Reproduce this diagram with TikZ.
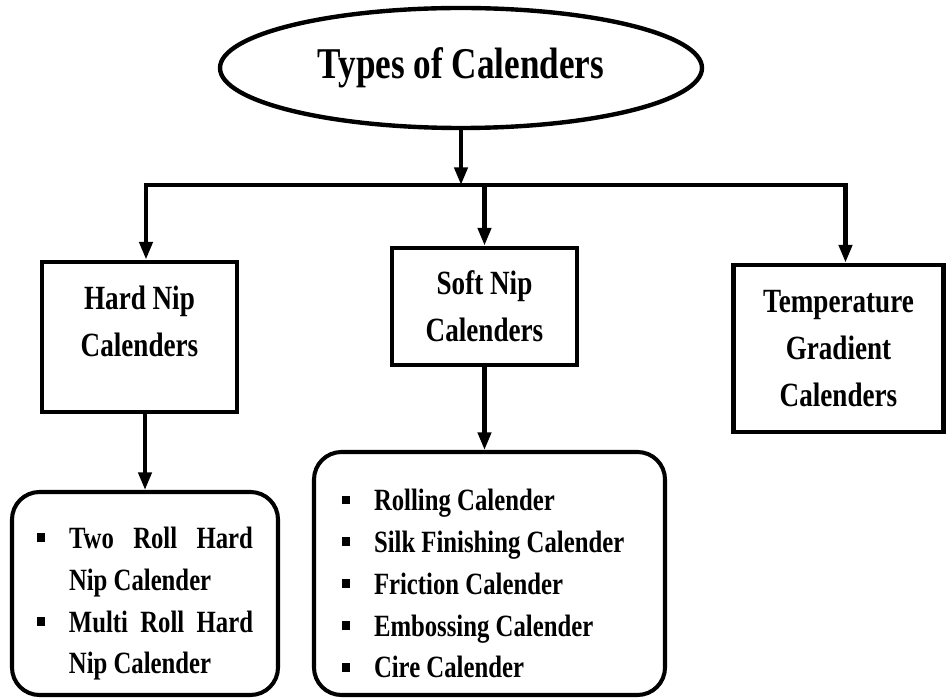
\documentclass[tikz,border=0pt]{standalone}
\usepackage{fontspec}
\usepackage{enumitem}
\usetikzlibrary{shapes.geometric,arrows.meta}
\newfontfamily\calfont{Liberation Serif}[FakeStretch=0.8]
\newcommand{\sqbullet}{\rule[3.6pt]{4.5pt}{5pt}}
\newcommand{\calsize}[2]{\calfont\bfseries\fontsize{#1}{#2}\selectfont\spaceskip=0.2\dimexpr#1pt\relax}
\setlist[itemize]{label=\sqbullet, leftmargin=0.64cm, labelwidth=0.64cm, labelsep=0pt, align=left, topsep=0pt, itemsep=0pt, parsep=0pt, partopsep=0pt}

\begin{document}
\begin{tikzpicture}[
  conn/.style={line width=2.3pt},
  arr/.style={conn, -{Triangle[width=7.4pt,length=10pt]}},
  titleshape/.style={draw, ellipse, line width=2.5pt, inner sep=0pt, minimum width=9.64cm, minimum height=2.4cm, font=\calsize{25}{28}},
  catbox/.style={draw, rectangle, line width=2.8pt, inner sep=0pt, align=flush center, font=\calsize{19.3}{26.6}},
  listbox/.style={draw, rectangle, line width=2.3pt, rounded corners=0.55cm, inner sep=0pt, font=\calsize{17.6}{23.8}}
]
\useasboundingbox (0,0) rectangle (18.94,-13.98);
\node[titleshape] (title) at (9.22,-1.36) {Types of Calenders};
\coordinate (bus) at (9.22,-3.7);
\node[catbox, minimum width=3.9cm, minimum height=3cm, text width=3.5cm] (hard) at (2.79,-6.74) {Hard Nip\\Calenders\rule[-0.64cm]{0pt}{0pt}};
\node[catbox, minimum width=3.7cm, minimum height=2.34cm, text width=3.3cm] (soft) at (9.69,-6.13) {Soft Nip\\Calenders};
\node[catbox, minimum width=4.2cm, minimum height=3.34cm, text width=3.8cm] (temp) at (16.77,-6.97) {Temperature\\Gradient\\Calenders};
\node[listbox, minimum width=5.32cm, minimum height=4.06cm, text width=4.32cm, align=justify] (hardlist) at (2.9,-11.87) {\tolerance=10000\hbadness=10000\spaceskip=3.5pt plus 10pt\relax
\begin{itemize}
\item Two Roll Hard Nip Calender
\item Multi Roll Hard Nip Calender
\end{itemize}};
\node[listbox, minimum width=7.02cm, minimum height=4.86cm, text width=5.9cm, align=flush left] (softlist) at (9.79,-11.47) {
\begin{itemize}
\item Rolling Calender
\item Silk Finishing Calender
\item Friction Calender
\item Embossing Calender
\item Cire Calender
\end{itemize}};
\draw[arr] (title.south) -- (bus);
\draw[arr] (bus) -| ([xshift=0.13cm]hard.north);
\draw[arr] (bus) -| ([xshift=0.14cm]temp.north);
\draw[arr] (soft.north |- bus) -- (soft.north);
\draw[arr] (hardlist.north |- hard.south) -- (hardlist.north);
\draw[arr] (soft.south) -- (soft.south |- softlist.north);
\end{tikzpicture}
\end{document}
